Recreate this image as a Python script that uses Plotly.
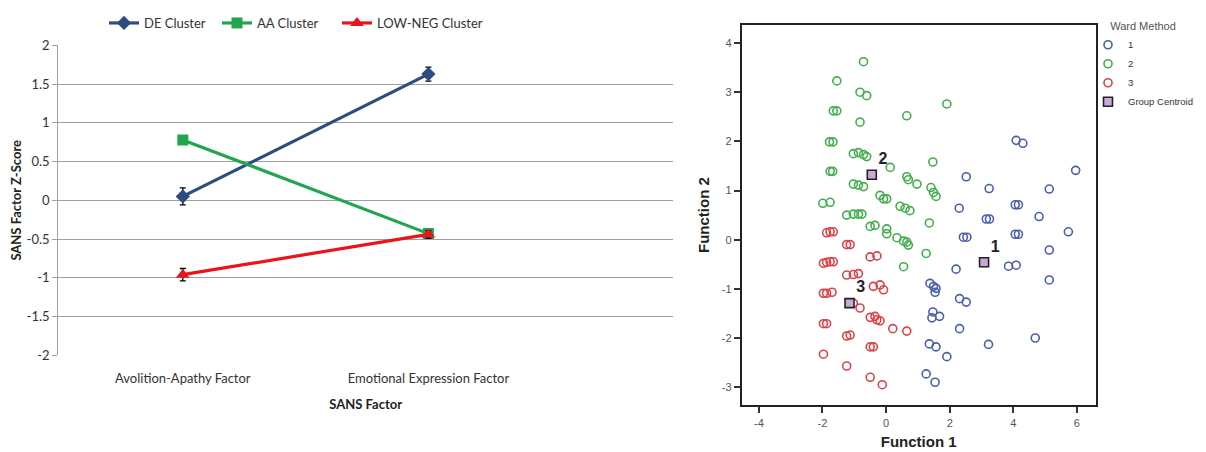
import plotly.graph_objects as go

# ---------------- Left panel data ----------------
factors = ["Avolition-Apathy Factor", "Emotional Expression Factor"]
factor_pos = [0, 1]
de_vals = [0.05, 1.63]
de_err = [0.11, 0.09]
aa_vals = [0.78, -0.43]
aa_err = [0.04, 0.04]
low_vals = [-0.96, -0.44]
low_err = [0.08, 0.05]
y_ticks = [2, 1.5, 1, 0.5, 0, -0.5, -1, -1.5, -2]
y_tick_text = ["2", "1.5", "1", "0.5", "0", "-0.5", "-1", "-1.5", "-2"]

# ---------------- Right panel data ----------------
g1_x = [4.09, 4.30, 5.96, 2.52, 3.24, 5.13, 2.30, 4.06, 4.16, 3.15, 3.25, 4.81, 2.43, 2.54,
        4.06, 4.16, 5.73, 5.13, 2.20, 3.85, 4.09, 5.13, 1.38, 1.49, 1.57, 1.54, 2.31, 2.52,
        1.47, 1.44, 1.68, 2.31, 3.22, 4.69, 1.36, 1.57, 1.91, 1.26, 1.54]
g1_y = [2.02, 1.96, 1.41, 1.28, 1.04, 1.03, 0.64, 0.71, 0.71, 0.42, 0.42, 0.47, 0.05, 0.05,
        0.11, 0.11, 0.16, -0.21, -0.60, -0.54, -0.52, -0.82, -0.89, -0.95, -0.99, -1.07, -1.20, -1.27,
        -1.47, -1.59, -1.56, -1.81, -2.13, -2.00, -2.12, -2.18, -2.38, -2.73, -2.90]
g2_x = [-0.71, -1.55, -0.82, -0.61, -1.66, -1.55, -0.82, 0.65, 1.91, -1.78, -1.67, -1.03, -0.87,
        -0.71, -0.61, 0.13, 1.47, -1.76, -1.68, -1.03, -0.87, -0.71, 0.65, 0.70, 0.97, 1.41, 1.49,
        1.57, -0.19, -0.08, 0.02, -1.99, -1.76, 0.44, 0.60, 0.75, -1.24, -1.03, -0.87, -0.76, 1.36,
        -0.50, -0.35, 0.02, 0.02, 0.34, 0.55, 0.65, 0.70, 1.26, 0.55]
g2_y = [3.62, 3.23, 3.00, 2.93, 2.62, 2.62, 2.39, 2.52, 2.76, 1.99, 1.99, 1.75, 1.77,
        1.73, 1.69, 1.47, 1.58, 1.39, 1.39, 1.13, 1.11, 1.08, 1.28, 1.22, 1.13, 1.06, 0.96,
        0.88, 0.90, 0.83, 0.83, 0.74, 0.76, 0.68, 0.64, 0.59, 0.50, 0.52, 0.52, 0.52, 0.34,
        0.27, 0.29, 0.22, 0.12, 0.04, -0.03, -0.05, -0.11, -0.28, -0.55]
g3_x = [-1.87, -1.76, -1.66, -1.24, -1.13, -0.50, -0.29, -1.97, -1.87, -1.76, -1.66, -1.24, -1.03,
        -0.87, -0.40, -0.19, -0.08, -1.97, -1.87, -1.70, -1.03, -0.82, -0.50, -0.35, -0.29, -0.19,
        -1.97, -1.87, 0.21, 0.65, -1.24, -1.13, -0.50, -0.40, -1.97, -1.24, -0.50, -0.12]
g3_y = [0.14, 0.16, 0.16, -0.10, -0.10, -0.35, -0.33, -0.48, -0.46, -0.45, -0.45, -0.72, -0.71,
        -0.69, -0.95, -0.92, -1.02, -1.09, -1.09, -1.07, -1.29, -1.39, -1.58, -1.56, -1.63, -1.65,
        -1.71, -1.71, -1.81, -1.86, -1.96, -1.94, -2.18, -2.18, -2.33, -2.57, -2.80, -2.95]
centroid_x = [3.08, -0.45, -1.15]
centroid_y = [-0.46, 1.32, -1.29]
centroid_labels = ["1", "2", "3"]
f1_ticks = [-4, -2, 0, 2, 4, 6]
f1_tick_text = ["-4", "-2", "0", "2", "4", "6"]
f2_ticks = [4, 3, 2, 1, 0, -1, -2, -3]
f2_tick_text = ["4", "3", "2", "1", "0", "-1", "-2", "-3"]

W, H = 1206, 452
OFF = 8  # default page body margin

def px_x(p):
    return (p - OFF) / W

def px_y(p):
    return 1 - (p - OFF) / H

fig = go.Figure()

LEFT_FONT = "Lato, 'Open Sans', sans-serif"
RIGHT_FONT = "Arial, 'Liberation Sans', sans-serif"

err_style = dict(type="data", color="black", thickness=1.3, width=3)

fig.add_trace(go.Scatter(
    x=factor_pos, y=de_vals, name="DE Cluster", mode="lines+markers",
    line=dict(color="#2d4d80", width=3.2),
    marker=dict(symbol="diamond", size=11, color="#2d4d80"),
    error_y=dict(array=de_err, **err_style),
    xaxis="x", yaxis="y", legend="legend"))
fig.add_trace(go.Scatter(
    x=factor_pos, y=aa_vals, name="AA Cluster", mode="lines+markers",
    line=dict(color="#22a54f", width=3.2),
    marker=dict(symbol="square", size=11, color="#22a54f"),
    error_y=dict(array=aa_err, **err_style),
    xaxis="x", yaxis="y", legend="legend3"))
fig.add_trace(go.Scatter(
    x=factor_pos, y=low_vals, name="LOW-NEG Cluster", mode="lines+markers",
    line=dict(color="#e8161c", width=3.2),
    marker=dict(symbol="triangle-up", size=12, color="#e8161c"),
    error_y=dict(array=low_err, **err_style),
    xaxis="x", yaxis="y", legend="legend4"))

circle = dict(symbol="circle-open", size=8, line=dict(width=1.6))
fig.add_trace(go.Scatter(x=g1_x, y=g1_y, name="1", mode="markers",
                         marker=dict(color="#4b5eab", **circle),
                         xaxis="x2", yaxis="y2", legend="legend2"))
fig.add_trace(go.Scatter(x=g2_x, y=g2_y, name="2", mode="markers",
                         marker=dict(color="#43ae4c", **circle),
                         xaxis="x2", yaxis="y2", legend="legend2"))
fig.add_trace(go.Scatter(x=g3_x, y=g3_y, name="3", mode="markers",
                         marker=dict(color="#de4248", **circle),
                         xaxis="x2", yaxis="y2", legend="legend2"))
fig.add_trace(go.Scatter(x=centroid_x, y=centroid_y, name="Group Centroid",
                         mode="markers+text", text=centroid_labels,
                         textposition="top right",
                         textfont=dict(family=RIGHT_FONT, size=16, color="#222", weight="bold"),
                         marker=dict(symbol="square", size=9, color="#c9a9d6",
                                     line=dict(color="#222", width=1.6)),
                         xaxis="x2", yaxis="y2", legend="legend2"))

top_legend = dict(orientation="h", y=px_y(19), xanchor="left", yanchor="middle",
                  font=dict(size=13, family=LEFT_FONT, color="#333"),
                  itemwidth=30, bgcolor="rgba(0,0,0,0)")

fig.update_layout(
    width=W, height=H,
    margin=dict(l=0, r=0, t=0, b=0),
    paper_bgcolor="white", plot_bgcolor="white",
    font=dict(family=LEFT_FONT, color="#333"),
    xaxis=dict(domain=[px_x(58.3), px_x(673)], range=[-0.507, 1.996], automargin=False,
               tickvals=factor_pos, ticktext=factors, showgrid=False, zeroline=False,
               showline=False, ticks="", ticklabelstandoff=14,
               tickfont=dict(size=13, family=LEFT_FONT, color="#333"),
               title=dict(text="<b>SANS Factor</b>", font=dict(size=13, family=LEFT_FONT, color="#222"),
                          standoff=14),
               anchor="y"),
    yaxis=dict(domain=[px_y(354.3), px_y(41.7)], range=[-2, 2], automargin=False,
               tickvals=y_ticks, ticktext=y_tick_text, showgrid=True, gridcolor="#a0a0a0",
               gridwidth=1.2, zeroline=False, showline=True, linecolor="#a0a0a0", linewidth=1.2,
               ticks="outside", ticklen=5, tickcolor="#a0a0a0",
               tickfont=dict(size=13, family=LEFT_FONT, color="#333"),
               title=dict(text="<b>SANS Factor Z-Score</b>", font=dict(size=13, family=LEFT_FONT, color="#222"),
                          standoff=6),
               anchor="x"),
    xaxis2=dict(domain=[px_x(741.7), px_x(1095.7)], range=[-4.54, 6.59], automargin=False,
                tickvals=f1_ticks, ticktext=f1_tick_text, showgrid=False, zeroline=False,
                showline=True, mirror=True, linecolor="#222", linewidth=2,
                ticks="outside", ticklen=6, tickwidth=2, tickcolor="#333",
                tickfont=dict(size=11, family=RIGHT_FONT, color="#555"),
                title=dict(text="<b>Function 1</b>", font=dict(size=15, family=RIGHT_FONT, color="#222"),
                           standoff=9),
                anchor="y2"),
    yaxis2=dict(domain=[px_y(405), px_y(20.7)], range=[-3.373, 4.375], automargin=False,
                tickvals=f2_ticks, ticktext=f2_tick_text, showgrid=False, zeroline=False,
                showline=True, mirror=True, linecolor="#222", linewidth=2,
                ticks="outside", ticklen=6, tickwidth=2, tickcolor="#333",
                tickfont=dict(size=11, family=RIGHT_FONT, color="#555"),
                title=dict(text="<b>Function 2</b>", font=dict(size=15, family=RIGHT_FONT, color="#222"),
                           standoff=8),
                anchor="x2"),
    legend=dict(x=px_x(104), **top_legend),
    legend3=dict(x=px_x(217), **top_legend),
    legend4=dict(x=px_x(337), **top_legend),
    legend2=dict(orientation="v", x=px_x(1088), y=px_y(12), xanchor="left", yanchor="top",
                 title=dict(text="Ward Method", side="top center",
                            font=dict(size=11, family=RIGHT_FONT, color="#555")),
                 font=dict(size=9.5, family=RIGHT_FONT, color="#333"),
                 tracegroupgap=0, itemwidth=30, bgcolor="rgba(0,0,0,0)"),
    showlegend=True,
)

fig.write_html("out.html")
